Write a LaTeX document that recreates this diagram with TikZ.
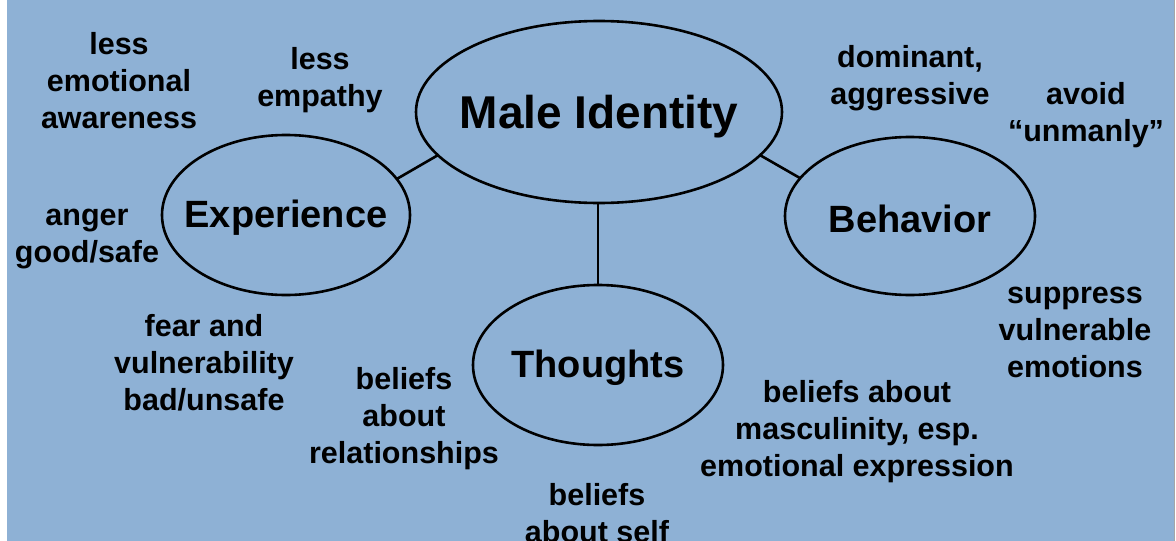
\documentclass[tikz,border=0pt]{standalone}
\usepackage{fontspec}
\usetikzlibrary{shapes.geometric}
\setmainfont{Liberation Sans}
\definecolor{bgblue}{RGB}{142,177,213}
\begin{document}
\begin{tikzpicture}[x=1pt,y=-1pt,
  oval/.style={draw=black,line width=2.6pt,ellipse,inner sep=0pt,outer sep=0pt},
  big/.style={font=\fontsize{46}{55}\selectfont\bfseries,yshift=-5pt},
  mid/.style={font=\fontsize{38}{46}\selectfont\bfseries,yshift=-3pt},
  lab/.style={align=center,font=\fontsize{30.5}{37}\selectfont\bfseries,inner sep=0pt},
  link/.style={line width=2.6pt}]
\useasboundingbox (0,0) rectangle (1176,541);
\fill[white] (0,0) rectangle (1176,541);
\fill[bgblue] (7,0) rectangle (1174,541);
\draw[gray!70,line width=1pt] (1174.5,0) -- (1174.5,541);
% ellipses
\node[oval,minimum width=366pt,minimum height=182pt,label={[big]center:Male Identity}] (male) at (599,112) {};
\node[oval,minimum width=248pt,minimum height=160pt,label={[mid]center:Experience}] (exp) at (286,215) {};
\node[oval,minimum width=250pt,minimum height=158pt,label={[mid]center:Behavior}] (beh) at (910,216) {};
\node[oval,minimum width=250pt,minimum height=160pt,label={[mid]center:Thoughts}] (tho) at (598,365) {};
% connectors
\draw[link] (male.195) -- (exp.18);
\draw[link] (male.-15) -- (beh.161);
\draw[link] (male.south -| tho.north) -- (tho.north);
% labels
\node[lab] (l1) at (119,81) {less\\emotional\\awareness};
\node[lab] (l2) at (320,80) {less\\empathy};
\node[lab] (l3) at (910,78) {dominant,\\aggressive};
\node[lab] (l4) at (1086,115) {avoid\\“unmanly”};
\node[lab] (l5) at (87,239) {anger\\good/safe};
\node[lab] (l6) at (204,363) {fear and\\vulnerability\\bad/unsafe};
\node[lab] (l7) at (404,419) {beliefs\\about\\relationships};
\node[lab] (l8) at (597,513) {beliefs\\about self};
\node[lab] (l9) at (857,432) {beliefs about\\masculinity, esp.\\emotional expression};
\node[lab] (l10) at (1075,332) {suppress\\vulnerable\\emotions};
\end{tikzpicture}
\end{document}
